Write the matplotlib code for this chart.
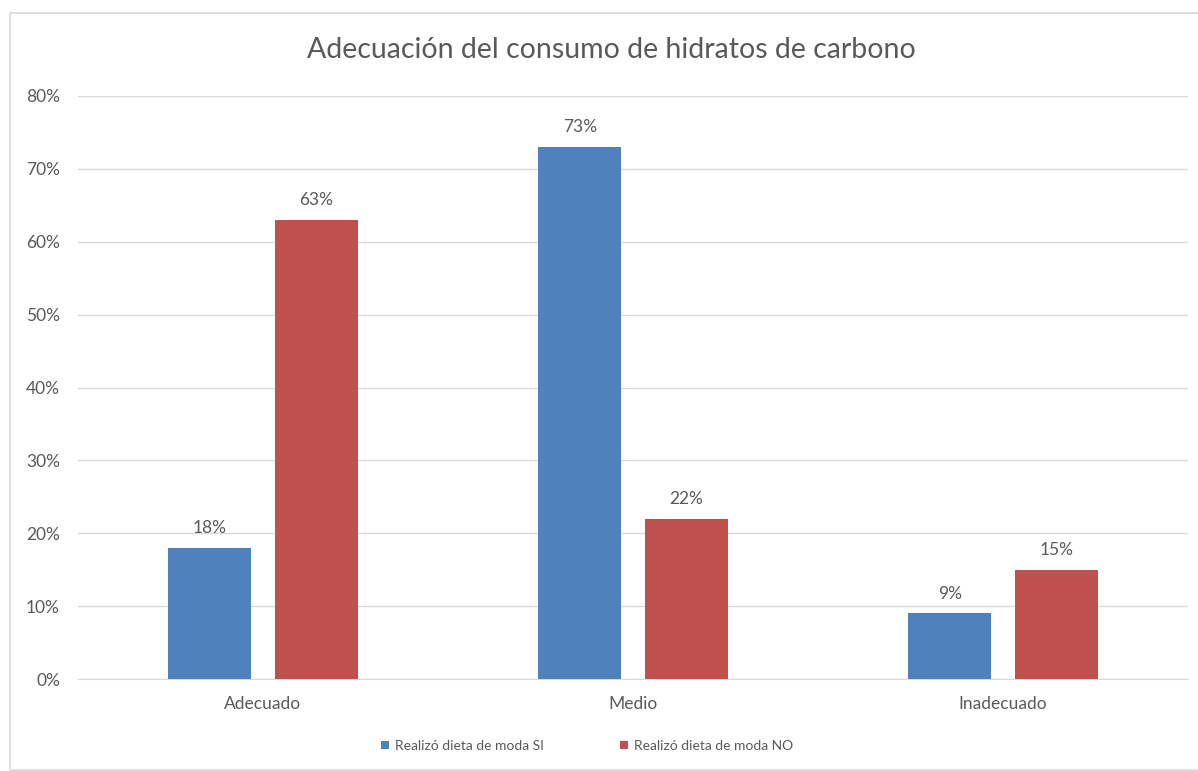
import matplotlib

matplotlib.use("Agg")
import matplotlib.pyplot as plt
from matplotlib.patches import Rectangle
import numpy as np

plt.rcParams["font.family"] = ["Lato", "DejaVu Sans"]

categories = ["Adecuado", "Medio", "Inadecuado"]
series_names = ["Realizó dieta de moda SI", "Realizó dieta de moda NO"]
values_si = [18, 73, 9]
values_no = [63, 22, 15]
yticks = [0, 10, 20, 30, 40, 50, 60, 70, 80]

BLUE = "#4F81BD"
RED = "#C0504D"
TEXT = "#595959"

W, H = 1198, 771
fig = plt.figure(figsize=(W / 100, H / 100), dpi=100)

# chart frame (right edge runs off the canvas)
fig.patches.append(Rectangle((10 / W, 1.5 / H), (W + 5) / W, (H - 14.5) / H,
                             transform=fig.transFigure, fill=False,
                             edgecolor="#D9D9D9", linewidth=1.2))

left, right = 78 / W, 1188 / W
bottom, top = (H - 679) / H, (H - 96) / H
ax = fig.add_axes([left, bottom, right - left, top - bottom])

x = np.arange(len(categories))
width = 0.223
offset = 0.144
bars_si = ax.bar(x - offset, values_si, width, color=BLUE, label=series_names[0], zorder=3)
bars_no = ax.bar(x + offset, values_no, width, color=RED, label=series_names[1], zorder=3)

for bars, vals in [(bars_si, values_si), (bars_no, values_no)]:
    for bar, v in zip(bars, vals):
        ax.text(bar.get_x() + bar.get_width() / 2, v + 1.6, f"{v}%",
                ha="center", va="bottom", fontsize=12.5, color=TEXT)

ax.set_xlim(-0.5, 2.5)
ax.set_ylim(0, 80)
ax.set_yticks(yticks)
ax.set_yticklabels([f"{t}%" for t in yticks])
ax.set_xticks(x)
ax.set_xticklabels(categories)
ax.tick_params(axis="both", length=0, labelsize=12.5, colors=TEXT)
ax.tick_params(axis="y", pad=13)
ax.tick_params(axis="x", pad=12)
ax.yaxis.grid(True, color="#D9D9D9", linewidth=1, zorder=0)
for side in ["top", "right", "left"]:
    ax.spines[side].set_visible(False)
ax.spines["bottom"].set_color("#D9D9D9")

fig.text(611 / W, 1 - 50 / H, "Adecuación del consumo de hidratos de carbono",
         ha="center", va="center", fontsize=20.5, color=TEXT)

fig.legend(loc="center", bbox_to_anchor=(587 / W, 1 - 746 / H), ncol=2,
           frameon=False, fontsize=10, labelcolor=TEXT, handlelength=0.55,
           handleheight=0.55, handletextpad=0.45, columnspacing=5.5)

fig.savefig("out.png", dpi=100)
